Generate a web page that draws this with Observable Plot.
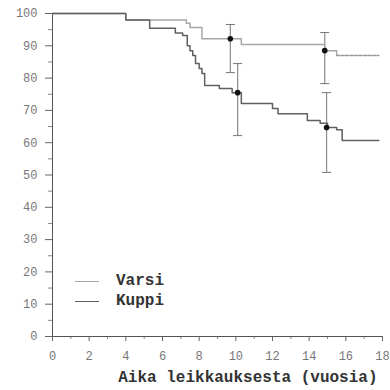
<!DOCTYPE html>
<html><head><meta charset="utf-8">
<script src="https://cdn.jsdelivr.net/npm/d3@7"></script>
<script src="https://cdn.jsdelivr.net/npm/@observablehq/plot@0.6"></script>
<style>
body{margin:0;background:#fff}
#wrap{position:relative;width:390px;height:390px;overflow:hidden}
.leg{position:absolute;left:75px;font:bold 16px "Liberation Mono",monospace;color:#333;display:flex;align-items:center}
.leg span.ln{display:inline-block;width:24px;height:0;margin-right:17px}
</style>
</head><body>
<div id="wrap"></div>
<script>
// Kaplan-Meier style survival curves (time in years, survival %)
const kuppiT = [0, 4.0, 5.3, 6.7, 7.1, 7.35, 7.5, 7.65, 7.8, 8.0, 8.15, 8.3, 9.1, 9.8, 10.3, 12.0, 12.3, 13.9, 14.6, 15.0, 15.5, 15.8, 17.8];
const kuppiS = [100, 98, 95.4, 94, 93.2, 90, 88.5, 87, 84.5, 83, 81.4, 77.7, 76.8, 75.5, 72.1, 70.6, 69, 66.9, 66, 64.7, 64, 60.7, 60.7];
const varsiT = [0, 4.0, 7.3, 7.5, 8.15, 10.3, 14.85, 15.5, 17.8];
const varsiS = [100, 98, 97, 95.7, 92.2, 90.4, 88.5, 87, 87];
// error bars (confidence intervals)
const errT   = [9.7, 10.1, 14.85, 14.95];
const errMid = [92.2, 75.5, 88.5, 64.7];
const errLo  = [81.7, 62.2, 78.3, 50.8];
const errHi  = [96.6, 84.5, 94.1, 75.5];
// ticks
const yMajor = [0,10,20,30,40,50,60,70,80,90,100];
const yMinor = [5,15,25,35,45,55,65,75,85,95];
const xMajor = [0,2,4,6,8,10,12,14,16,18];
const xMinor = [1,3,5,7,9,11,13,15,17];
const xLabel = "Aika leikkauksesta (vuosia)";
const seriesNames = ["Varsi","Kuppi"];

const kuppi = kuppiT.map((t,i)=>({t, s:kuppiS[i]}));
const varsi = varsiT.map((t,i)=>({t, s:varsiS[i]}));
const err = errT.map((t,i)=>({t, mid:errMid[i], lo:errLo[i], hi:errHi[i]}));
const cap = 0.25;

const cV = "#a8a8a8", cK = "#606060";
const tickFont = {fontSize:12, fontFamily:"Liberation Mono, monospace", fill:"#777"};

const chart = Plot.plot({
  width:390, height:390,
  marginLeft:52, marginRight:8, marginTop:13, marginBottom:54,
  x:{domain:[0,18]}, y:{domain:[0,100]},
  marks:[
    Plot.axisY({ticks:yMajor, tickSize:7, tickPadding:8, stroke:"#666", label:null, ...tickFont}),
    Plot.axisY({ticks:yMinor, tickSize:4, tickFormat:()=>"", stroke:"#888", label:null}),
    Plot.axisX({ticks:xMajor, tickSize:5, tickPadding:10, stroke:"#666", label:null, ...tickFont}),
    Plot.axisX({ticks:xMinor, tickSize:3, tickFormat:()=>"", stroke:"#888", label:null}),
    Plot.text([xLabel], {text:d=>d, frameAnchor:"bottom-right", textAnchor:"end", dx:-5, dy:45,
      fontSize:16, fontWeight:"bold", fontFamily:"Liberation Mono, monospace", fill:"#333"}),
    Plot.ruleX([0], {y1:0, y2:100, stroke:"#555"}),
    Plot.ruleY([0], {x1:0, x2:18, stroke:"#555"}),
    Plot.ruleX(err, {x:"t", y1:"lo", y2:"hi", stroke:"#8a8a8a", strokeWidth:1.2}),
    Plot.link(err, {x1:d=>d.t-cap, x2:d=>d.t+cap, y1:"lo", y2:"lo", stroke:"#777"}),
    Plot.link(err, {x1:d=>d.t-cap, x2:d=>d.t+cap, y1:"hi", y2:"hi", stroke:"#777"}),
    Plot.line(varsi.filter(d=>d.t<=15.5), {x:"t", y:"s", curve:"step-after", stroke:cV, strokeWidth:1.5}),
    Plot.line(varsi.filter(d=>d.t>=15.5), {x:"t", y:"s", curve:"step-after", stroke:"#999", strokeWidth:1.5, strokeDasharray:"3,1.5"}),
    Plot.line(kuppi, {x:"t", y:"s", curve:"step-after", stroke:cK, strokeWidth:1.5}),
    Plot.dot(err, {x:"t", y:"mid", r:2.8, fill:"#111"})
  ]
});
const wrap = document.getElementById("wrap");
wrap.appendChild(chart);
[[seriesNames[0], cV, 272],[seriesNames[1], cK, 292]].forEach(([n,c,top])=>{
  const d = document.createElement("div");
  d.className = "leg"; d.style.top = top + "px";
  d.innerHTML = `<span class="ln" style="border-top:1.5px solid ${c}"></span>${n}`;
  wrap.appendChild(d);
});
</script>
</body></html>
